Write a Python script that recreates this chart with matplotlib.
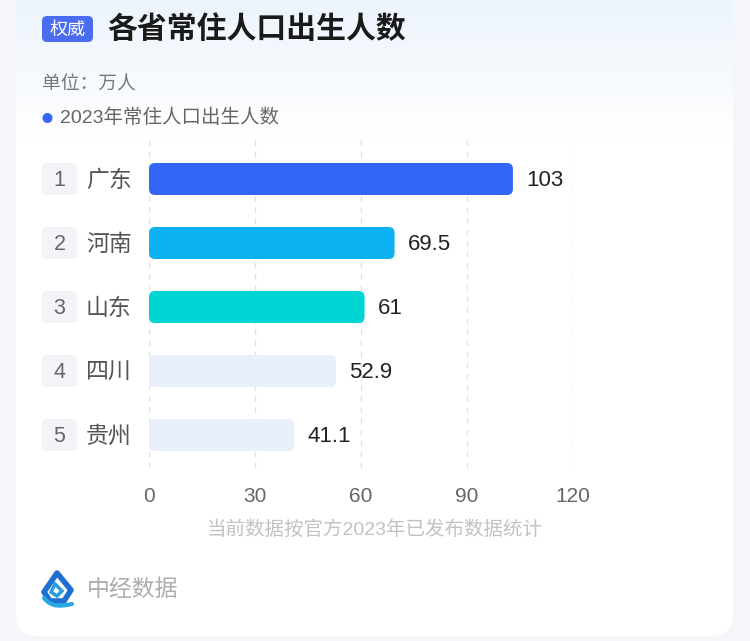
import matplotlib
matplotlib.use("Agg")
import matplotlib.pyplot as plt
import numpy as np
from matplotlib.patches import FancyBboxPatch, Circle, Polygon, PathPatch
from matplotlib.path import Path
import matplotlib.transforms as mtransforms
import matplotlib.colors as mcolors

plt.rcParams['font.family'] = ['Liberation Sans', 'Noto Sans CJK SC', 'DejaVu Sans']
CJK = ['Noto Sans CJK SC', 'DejaVu Sans']

# ---- data ----
ranks = ["1", "2", "3", "4", "5"]
provinces = ["广东", "河南", "山东", "四川", "贵州"]
births = [103, 69.5, 61, 52.9, 41.1]
bar_colors = ["#3366f6", "#0bb1f1", "#00d5d6", "#e9eefb", "#e9eefb"]
xticks = [0, 30, 60, 90, 120]
title = "各省常住人口出生人数"
badge = "权威"
unit_text = "单位：万人"
legend_text = "2023年常住人口出生人数"
note_text = "当前数据按官方2023年已发布数据统计"
brand_text = "中经数据"

W, H = 750, 641
fig = plt.figure(figsize=(W / 100, H / 100), dpi=100)
fig.patch.set_facecolor("#f5f6f9")

# background axes in pixel coordinates
bg = fig.add_axes([0, 0, 1, 1], zorder=0)
bg.set_xlim(0, W)
bg.set_ylim(H, 0)
bg.axis("off")

card = FancyBboxPatch((16, -40), 717, 676,
                      boxstyle="round,pad=0,rounding_size=22",
                      facecolor="white", edgecolor="none", zorder=0)
bg.add_patch(card)
# top gradient
grad = np.linspace(0, 1, 256).reshape(-1, 1)
cmap = mcolors.LinearSegmentedColormap.from_list("g", ["#ecf4fc", "#ffffff"])
im = bg.imshow(grad, extent=(16, 733, 140, 0), cmap=cmap, aspect="auto", zorder=0.5)
im.set_clip_path(card)

# badge
bg.add_patch(FancyBboxPatch((42, 16), 51, 26, boxstyle="round,pad=0,rounding_size=5",
                            facecolor="#4a6cf0", edgecolor="none", zorder=2))
bg.text(67.5, 29.5, badge, color="white", fontsize=13, fontweight="medium",
        family=CJK, ha="center", va="center", zorder=3)
bg.text(107, 29, title, color="#1a1a1a", fontsize=21.5, fontweight="bold",
        family=CJK, ha="left", va="center", zorder=3)
bg.text(42, 84, unit_text, color="#777777", fontsize=13.5, family=CJK,
        ha="left", va="center", zorder=3)
bg.add_patch(Circle((47.5, 118), 5, facecolor="#3366f6", edgecolor="none", zorder=3))
bg.text(60, 118, legend_text, color="#666666", fontsize=14, ha="left", va="center", zorder=3)
bg.text(375, 530, note_text, color="#c2c2c2", fontsize=14, ha="center", va="center", zorder=3)
bg.text(87, 589, brand_text, color="#adadad", fontsize=16.5, family=CJK,
        ha="left", va="center", zorder=3)

# logo (approximation)
logo_outer = Polygon([(57, 573), (71, 590), (64, 601), (50, 601), (44, 592)],
                     closed=True, facecolor="none", edgecolor="#1f6fd0", linewidth=4,
                     joinstyle="round", zorder=3)
bg.add_patch(logo_outer)
bg.add_patch(Polygon([(55, 584), (62, 591), (57, 596), (51, 592)], closed=True,
                     facecolor="none", edgecolor="#2a9be0", linewidth=2.5, zorder=3))
verts = [(44, 598), (52, 608), (62, 606), (72, 604)]
codes = [Path.MOVETO, Path.CURVE4, Path.CURVE4, Path.CURVE4]
bg.add_patch(PathPatch(Path(verts, codes), facecolor="none", edgecolor="#2aa5e6",
                       linewidth=3, capstyle="round", zorder=3))

# main axes
x0, x1 = 149, 573
ytop, ybot = 140, 468
ax = fig.add_axes([x0 / W, 1 - ybot / H, (x1 - x0) / W, (ybot - ytop) / H], zorder=1)
ax.patch.set_alpha(0)
row_px = 64
first_row = 179
ax.set_xlim(0, 120)
ax.set_ylim((ybot - first_row) / row_px, (ytop - first_row) / row_px)
for s in ax.spines.values():
    s.set_visible(False)
ax.set_yticks([])
ax.set_xticks(xticks)
ax.set_xticklabels([str(t) for t in xticks], fontsize=15, color="#666666")
ax.tick_params(axis="x", length=0, pad=14)
for t in xticks:
    ax.axvline(t, color="#e2e2e2", linewidth=1, linestyle=(0, (4, 4)), zorder=0)

bar_h = 0.5
xu_per_px = 120 / (x1 - x0)
yu_per_px = 1 / row_px
r_px = 6
for i, (v, c) in enumerate(zip(births, bar_colors)):
    p = FancyBboxPatch((0, i - bar_h / 2), v, bar_h,
                       boxstyle=f"round,pad=0,rounding_size={r_px * xu_per_px}",
                       mutation_aspect=yu_per_px / xu_per_px,
                       facecolor=c, edgecolor="none", zorder=2)
    ax.add_patch(p)
    ax.annotate(f"{v:g}", xy=(v, i), xytext=(13, -2), textcoords="offset pixels",
                ha="left", va="center", fontsize=16, color="#222222", zorder=3)

# rank boxes and province names (x in pixel space, y in data space)
tr = mtransforms.blended_transform_factory(bg.transData, ax.transData)
for i, (rk, name) in enumerate(zip(ranks, provinces)):
    box = FancyBboxPatch((42, i - bar_h / 2), 35, bar_h,
                         boxstyle=f"round,pad=0,rounding_size=4",
                         mutation_aspect=yu_per_px,
                         facecolor="#f2f4f8", edgecolor="none",
                         transform=tr, clip_on=False, zorder=2)
    ax.add_patch(box)
    ax.annotate(rk, xy=(59.5, i), xycoords=tr, xytext=(0, -2), textcoords="offset pixels",
                ha="center", va="center", fontsize=15.5, color="#666666",
                zorder=3, annotation_clip=False)
    ax.annotate(name, xy=(86, i), xycoords=tr, xytext=(0, -1), textcoords="offset pixels",
                ha="left", va="center", family=CJK, fontsize=16.5, color="#555555",
                zorder=3, annotation_clip=False)

fig.savefig("out.png", dpi=100, facecolor=fig.get_facecolor())
